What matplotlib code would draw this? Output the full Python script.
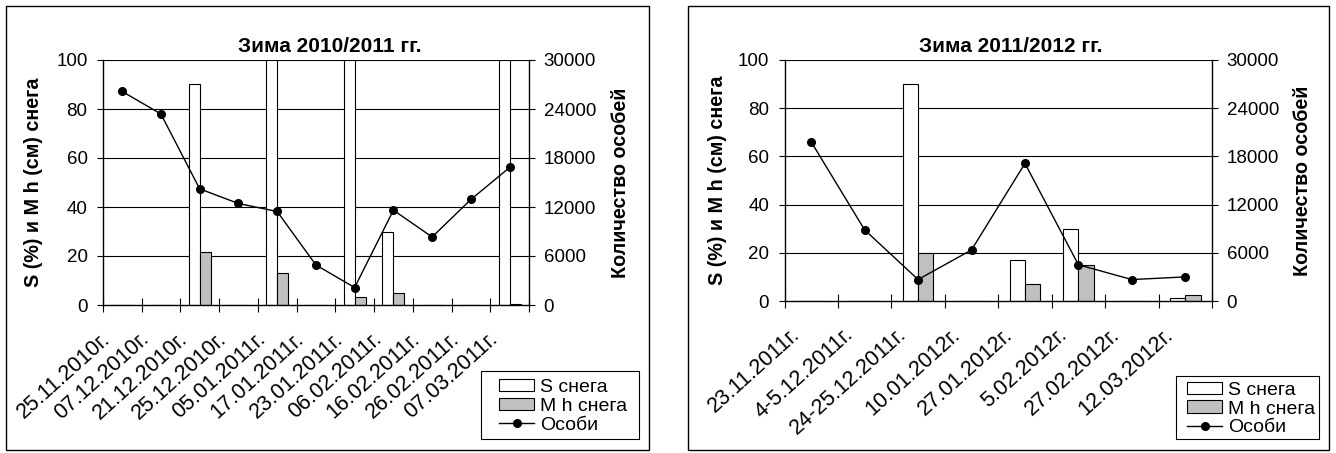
import numpy as np
from matplotlib import pyplot as plt
from matplotlib import transforms
from matplotlib.patches import Rectangle

plt.rcParams["font.family"] = ["Liberation Sans", "DejaVu Sans"]

W, H = 1336, 453

# winter 2010/2011
dates_1 = ["25.11.2010г.", "07.12.2010г.", "21.12.2010г.", "25.12.2010г.", "05.01.2011г.",
           "17.01.2011г.", "23.01.2011г.", "06.02.2011г.", "16.02.2011г.", "26.02.2011г.",
           "07.03.2011г."]
snow_s_1 = [0, 0, 90, 0, 100, 0, 100, 30, 0, 0, 100]
snow_h_1 = [0, 0, 21.5, 0, 13, 0, 3.3, 4.8, 0, 0, 0.4]
count_1 = [26150, 23390, 14220, 12430, 11450, 4900, 2140, 11610, 8330, 12920, 16840]

# winter 2011/2012
dates_2 = ["23.11.2011г.", "4-5.12.2011г.", "24-25.12.2011г.", "10.01.2012г.", "27.01.2012г.",
           "5.02.2012г.", "27.02.2012г.", "12.03.2012г."]
snow_s_2 = [0, 0, 90, 0, 17.2, 30, 0, 1.1]
snow_h_2 = [0, 0, 20, 0, 7.2, 15, 0, 2.3]
count_2 = [19800, 8850, 2670, 6360, 17130, 4510, 2670, 3000]

titles = ["Зима 2010/2011 гг.", "Зима 2011/2012 гг."]
left_label = "S (%) и M h (см) снега"
right_label = "Количество особей"
legend_labels = ["S снега", "M h снега", "Особи"]


def fx(x):
    return x / W


def fy(y):
    return 1 - y / H


def frame(fig, x0, y0, x1, y1, lw=1.0):
    fig.add_artist(Rectangle((fx(x0), fy(y1)), fx(x1 - x0), (y1 - y0) / H,
                             transform=fig.transFigure, fill=False, ec="black", lw=lw))


def draw_panel(fig, box, plot, title, dates, snow_s, snow_h, count, title_x, ylab_x, ylab2_x,
               leg_box, leg_x):
    frame(fig, *box)

    x0, y0, x1, y1 = plot
    ax = fig.add_axes([fx(x0), fy(y1), fx(x1 - x0), (y1 - y0) / H])
    n = len(dates)
    idx = np.arange(n)
    bw = 1 / 3.5

    ax.set_xlim(-0.5, n - 0.5)
    ax.set_ylim(0, 100)
    ax.set_yticks(range(0, 101, 20))
    for v in range(20, 101, 20):
        ax.axhline(v, color="black", lw=0.8, zorder=0.5)

    bars_s = ax.bar(idx - bw, snow_s, width=bw, align="edge", color="white", edgecolor="black",
                    lw=0.8, zorder=2)
    bars_h = ax.bar(idx, snow_h, width=bw, align="edge", color="#c0c0c0", edgecolor="black",
                    lw=0.8, zorder=2)

    ax.set_xticks(np.arange(-0.5, n, 1))
    ax.tick_params(axis="x", direction="inout", length=10, width=0.8, labelbottom=False)
    ax.tick_params(axis="y", direction="out", length=4.5, width=0.8, labelsize=13.5, pad=6.5)
    for s in ["top", "right"]:
        ax.spines[s].set_visible(False)
    for s in ["left", "bottom"]:
        ax.spines[s].set_linewidth(1.0)

    # rotated date labels
    off = transforms.ScaledTranslation(-11 / 100, -35 / 100, fig.dpi_scale_trans)
    for i, d in enumerate(dates):
        ax.text(i, 0, d, transform=ax.get_xaxis_transform() + off, rotation=42,
                rotation_mode="anchor", ha="right", va="baseline", fontsize=15.5)

    ax2 = ax.twinx()
    ax2.set_ylim(0, 30000)
    ax2.set_yticks(range(0, 30001, 6000))
    ax2.tick_params(axis="y", direction="out", length=4.5, width=0.8, labelsize=13.5, pad=6)
    for s in ["top", "left", "bottom"]:
        ax2.spines[s].set_visible(False)
    ax2.spines["right"].set_linewidth(1.0)
    line, = ax2.plot(idx, count, color="black", lw=1.0, marker="o", ms=5.5, zorder=3, clip_on=False)

    fig.text(fx(title_x), fy(52), title, ha="center", va="baseline", fontsize=15, fontweight="bold")
    yc = (y0 + y1) / 2
    fig.text(fx(ylab_x), fy(yc), left_label, rotation=90, ha="center", va="center",
             fontsize=14.2, fontweight="bold")
    fig.text(fx(ylab2_x), fy(yc), right_label, rotation=90, ha="center", va="center",
             fontsize=14.2, fontweight="bold")

    # legend: frame drawn by hand, entries placed inside it
    frame(fig, *leg_box, lw=0.8)
    leg_yc = (leg_box[1] + leg_box[3]) / 2 + 1.5
    fig.legend([bars_s, bars_h, line], legend_labels, loc="center left",
               bbox_to_anchor=(fx(leg_x), fy(leg_yc)), bbox_transform=fig.transFigure,
               fontsize=14, frameon=False, borderpad=0, labelspacing=0.1, handlelength=1.8,
               handleheight=0.6, handletextpad=0.31, borderaxespad=0)


fig = plt.figure(figsize=(W / 100, H / 100), dpi=100)

draw_panel(fig, (6, 6, 649, 450), (102.8, 60, 529, 305), titles[0], dates_1, snow_s_1, snow_h_1,
           count_1, 330, 34, 621, (481, 371, 639, 439), 499)
draw_panel(fig, (688, 6, 1329, 450), (784.5, 60, 1212, 301), titles[1], dates_2, snow_s_2, snow_h_2,
           count_2, 1011, 717, 1303, (1176, 376, 1319, 439), 1187)

fig.savefig("out.png", dpi=100)
